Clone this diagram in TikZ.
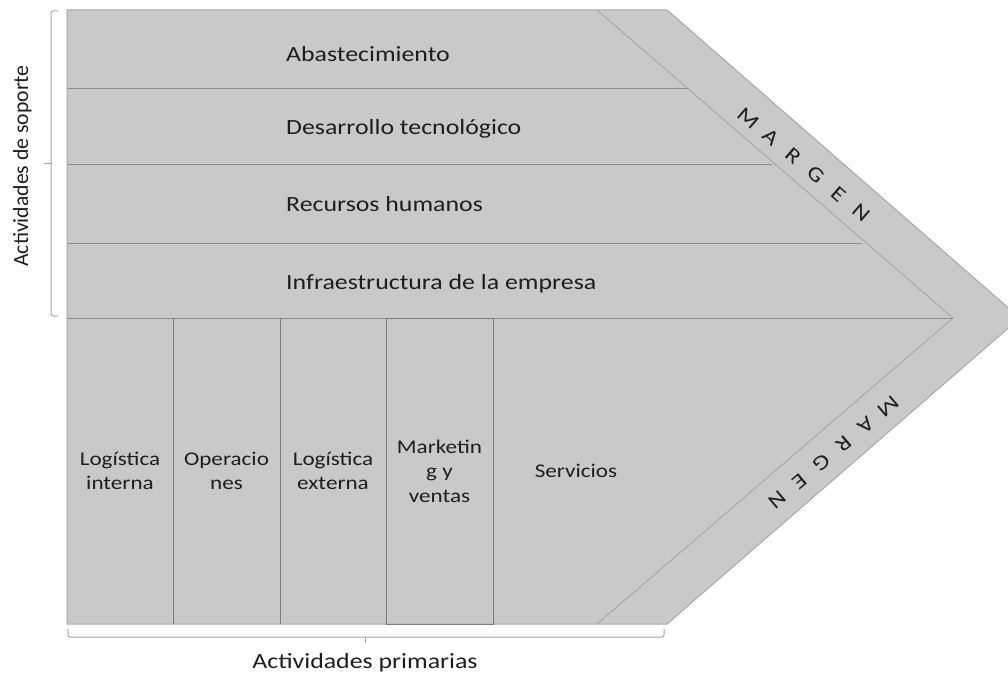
\documentclass[tikz,border=0pt]{standalone}
\usepackage{fontspec}
\setmainfont{Carlito}[FakeStretch=1.19]
\newfontfamily\uprightfont{Carlito}
\definecolor{chainfill}{HTML}{C9C9C9}
\definecolor{outline}{HTML}{A8A8A8}
\definecolor{rowline}{HTML}{8E8E8E}
\definecolor{colline}{HTML}{7C7C7C}
\definecolor{bracegray}{HTML}{A3A3A3}
\definecolor{txt}{HTML}{1E1E1E}
\begin{document}
\begin{tikzpicture}[x=1bp,y=-1bp,
  shell/.style={fill=chainfill, draw=outline, line width=1bp, line join=miter},
  divider/.style={draw=rowline, line width=1bp},
  colsep/.style={draw=colline, line width=1bp},
  brace/.style={draw=bracegray, line width=1bp, rounded corners=2bp},
  rowlabel/.style={anchor=base west, inner sep=0pt, text=txt,
    font=\fontsize{21.8}{26}\selectfont},
  collabel/.style={anchor=center, inner sep=0pt, text=txt, align=center,
    font=\fontsize{19.5}{24.5}\selectfont},
  sidelabel/.style={inner sep=0pt, text=txt,
    font=\fontsize{21.8}{26}\selectfont},
  marginletter/.style={inner sep=0pt, text=txt,
    font=\fontsize{21}{24}\selectfont}]
\useasboundingbox (0,0) rectangle (1008,677);
\clip (0,0) rectangle (1008,677);

% chevron body
\path[shell] (67,10) -- (667,10) -- (1020,318) -- (667,624) -- (67,624) -- cycle;
% inner chevron that separates the margin band
\draw[divider, draw=outline] (597,10) -- (953,318) -- (597,624);

% support activity rows
\draw[divider] (67,89) -- (688,89);
\draw[divider] (67,165) -- (772,165);
\draw[divider] (67,243) -- (862,243);
\draw[divider] (67,318) -- (953,318);

% primary activity columns
\draw[colsep] (173,318) -- (173,624);
\draw[colsep] (280,318) -- (280,624);
\draw[colsep] (386,318) rectangle (493,624);

% row labels
\node[rowlabel] (abas)  at (286,62)  {Abastecimiento};
\node[rowlabel] (tech)  at (286,135) {Desarrollo tecnológico};
\node[rowlabel] (rrhh)  at (286,211) {Recursos humanos};
\node[rowlabel] (infra) at (286,289) {Infraestructura de la empresa};

% column labels
\node[collabel] (login)  at (120,471)   {Logística\\interna};
\node[collabel] (oper)   at (226.5,471) {Operacio\\nes};
\node[collabel] (logout) at (333,471)   {Logística\\externa};
\node[collabel] (mkt)    at (439.5,471) {Marketin\\g y\\ventas};
\node[collabel] (serv)   at (576,471)   {Servicios};

% MARGEN along both sides of the tip
\foreach \ch [count=\i from 0] in {M,A,R,G,E,N}{
  \node[marginletter, rotate=-40.9] (mtop\i) at ({748+22.6*\i},{118+19*\i}) {\ch};
  \node[marginletter, rotate=-139.7] (mbot\i) at ({888-22.2*\i},{406+18.8*\i}) {\ch};
}

% brace for support activities
\draw[brace] (58,11) -- (51,11) -- (51,316) -- (58,316);
\draw[draw=bracegray, line width=1bp] (51,163.5) -- (44,163.5);
\node[sidelabel, rotate=90, anchor=base] (soporte) at (28,166)
  {\uprightfont Actividades de soporte};

% brace for primary activities
\draw[brace] (68,629) -- (68,637) -- (664,637) -- (664,629);
\draw[draw=bracegray, line width=1bp] (365,637) -- (365,643);
\node[sidelabel, anchor=base] (primarias) at (365,668) {Actividades primarias};
\end{tikzpicture}
\end{document}
